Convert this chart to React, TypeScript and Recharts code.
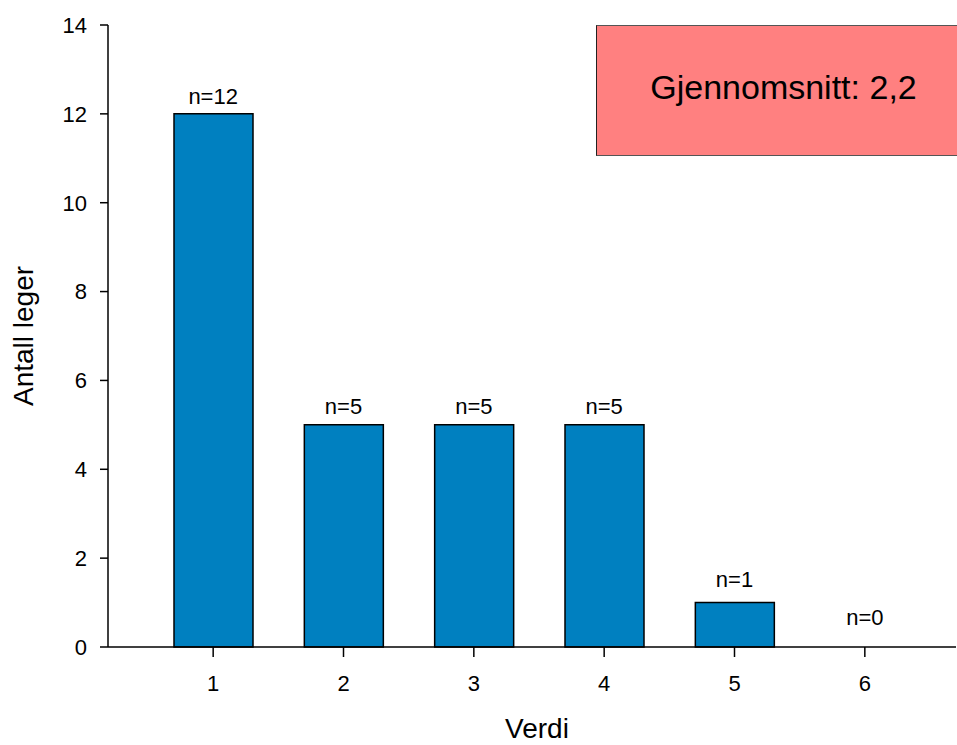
import { ComposedChart, Bar, Line, XAxis, YAxis, LabelList } from "recharts";

const categories = ["1", "2", "3", "4", "5", "6"];
const counts = [12, 5, 5, 5, 1, 0];
const yTicks = [0, 2, 4, 6, 8, 10, 12, 14];

const FONT = "'Liberation Sans', Arial, Helvetica, sans-serif";

const data = categories.map((c, i) => ({ verdi: c, antall: counts[i] }));

// weighted mean of the distribution, Norwegian decimal comma
const total = counts.reduce((s, n) => s + n, 0);
const mean =
  counts.reduce((s, n, i) => s + n * Number(categories[i]), 0) / total;
const meanText = mean.toFixed(1).replace(".", ",");

// "n=" labels hang off an invisible line so the zero bar gets one too
const CountLabel = (props: any) => {
  const { x, y, value } = props;
  const off = 9 + 13 / (1 + Number(value));
  return (
    <text
      x={Number(x)}
      y={Number(y) - off}
      textAnchor="middle"
      fontSize={22}
      fontFamily={FONT}
      fill="#000"
    >
      n={value}
    </text>
  );
};

const YLabel = () => (
  <text
    x={33}
    y={336}
    transform="rotate(-90 33 336)"
    textAnchor="middle"
    fontSize={28}
    fontFamily={FONT}
    fill="#000"
  >
    Antall leger
  </text>
);

const XLabel = () => (
  <text
    x={537}
    y={738}
    textAnchor="middle"
    fontSize={28}
    fontFamily={FONT}
    fill="#000"
  >
    Verdi
  </text>
);

export default function App() {
  return (
    <div
      style={{
        position: "relative",
        width: 957,
        height: 745,
        overflow: "hidden",
        background: "#fff",
      }}
    >
      <style>{`body{margin:0}`}</style>
      <ComposedChart
        width={957}
        height={745}
        data={data}
        margin={{ top: 25, right: 1, bottom: 0, left: 0 }}
        barSize={79}
      >
        <XAxis
          dataKey="verdi"
          height={98}
          padding={{ left: 40, right: 26 }}
          axisLine={{ stroke: "#000", strokeWidth: 1.5 }}
          tickLine={{ stroke: "#000", strokeWidth: 1.5 }}
          tickSize={10}
          tickMargin={18}
          fontSize={22}
          tick={{ fill: "#000", fontSize: 22, fontFamily: FONT }}
          label={XLabel}
        />
        <YAxis
          width={108}
          domain={[0, 14]}
          ticks={yTicks}
          interval={0}
          axisLine={{ stroke: "#000", strokeWidth: 1.5 }}
          tickLine={{ stroke: "#000", strokeWidth: 1.5 }}
          tickSize={8}
          tickMargin={13}
          fontSize={22}
          tick={{ fill: "#000", fontSize: 22, fontFamily: FONT }}
          label={YLabel}
        />
        <Bar
          dataKey="antall"
          fill="#0080C0"
          stroke="#000"
          strokeWidth={1.5}
          isAnimationActive={false}
        />
        <Line
          dataKey="antall"
          stroke="none"
          dot={false}
          activeDot={false}
          isAnimationActive={false}
        >
          <LabelList dataKey="antall" content={CountLabel} />
        </Line>
      </ComposedChart>
      <div
        style={{
          position: "absolute",
          left: 596,
          top: 25,
          width: 375,
          height: 131,
          background: "#FF8080",
          border: "1px solid #222",
          borderTopColor: "#555",
          borderBottomColor: "#555",
          display: "flex",
          alignItems: "center",
          justifyContent: "center",
          boxSizing: "border-box",
          paddingBottom: 6,
          fontFamily: FONT,
          fontSize: 34,
          color: "#000",
        }}
      >
        Gjennomsnitt: {meanText}
      </div>
    </div>
  );
}
